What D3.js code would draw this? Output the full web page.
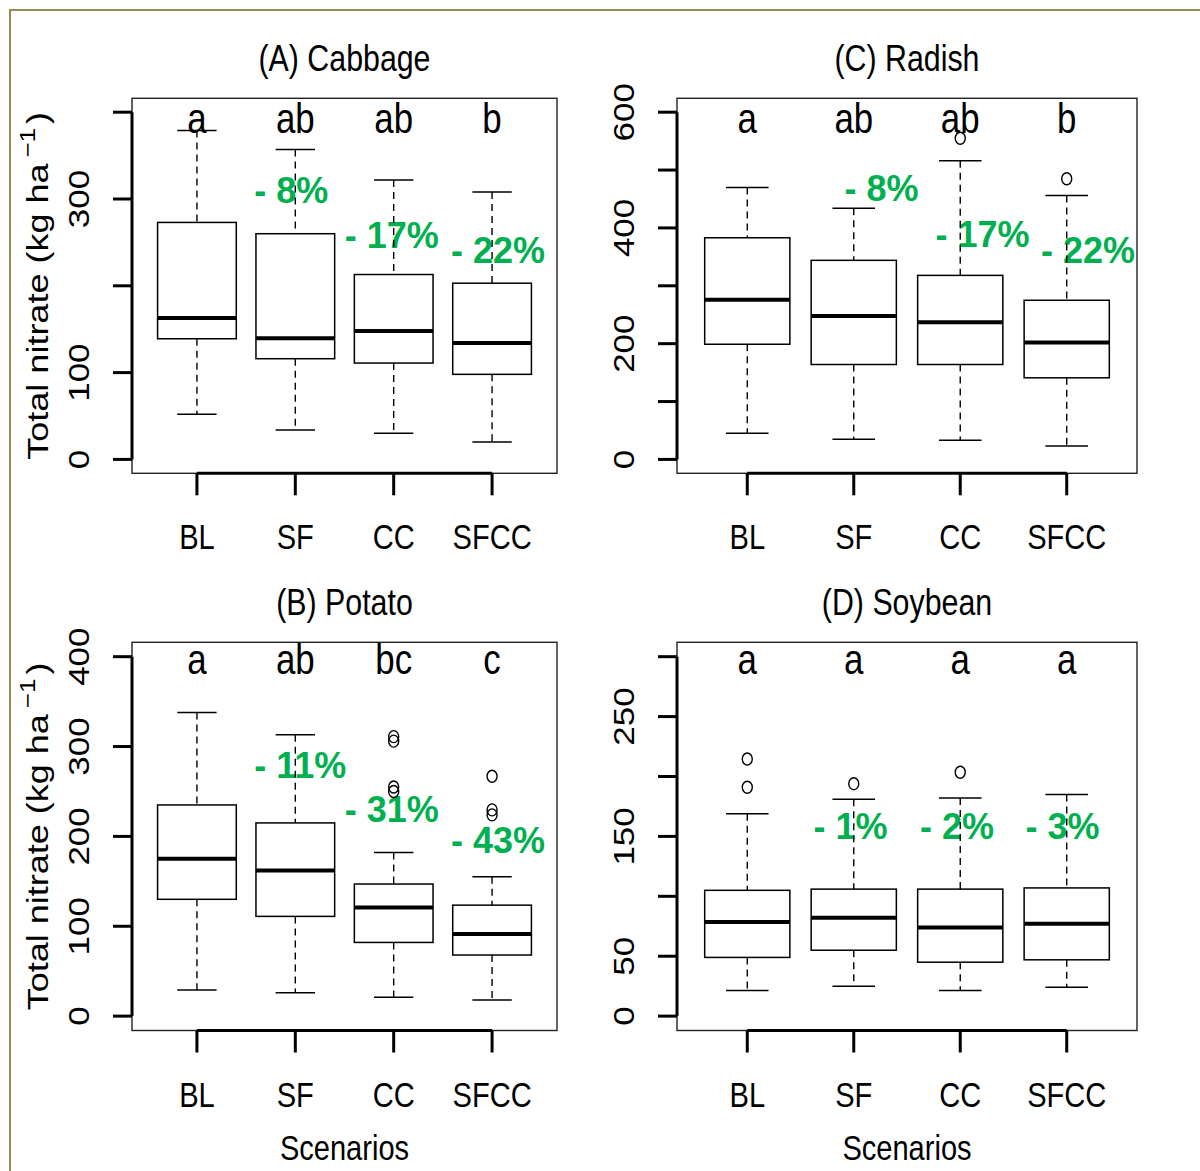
<!DOCTYPE html>
<html><head><meta charset="utf-8">
<script src="https://cdn.jsdelivr.net/npm/d3@7"></script>
<style>body{margin:0;background:#fff} svg{display:block} text{font-family:"Liberation Sans",Arial,Helvetica,sans-serif}</style>
</head><body><svg id="c" width="1200" height="1171"></svg>
<script>
const categories = ["BL","SF","CC","SFCC"];

// stats per scenario: [lower whisker, Q1, median, Q3, upper whisker]
const cabbageStats = [[52,139,163,273,379],[34,116,139.5,260,357],[30,111,148,213,322],[20,98,134,203,308]];
const cabbageOutliers = [[],[],[],[]];
const cabbageLetters = ["a","ab","ab","b"];
const cabbageChange = ["- 8%","- 17%","- 22%"];
const cabbageChangePos = [[1.96,295],[2.98,243],[4.06,226]];
const cabbageTicks = [0,100,200,300,400];
const cabbageTickLabels = [0,100,300];

const radishStats = [[45,199,276,383,470],[35,164,248,344,434],[33,164,237,318,516],[23,141,202,275,456]];
const radishOutliers = [[],[],[555],[485]];
const radishLetters = ["a","ab","ab","b"];
const radishChange = ["- 8%","- 17%","- 22%"];
const radishChangePos = [[2.26,447],[3.21,367],[4.20,340]];
const radishTicks = [0,100,200,300,400,500,600];
const radishTickLabels = [0,200,400,600];

const potatoStats = [[29,130,175,235,338],[26,111,162,215,313],[21,82,121,147,182],[18,68,91.5,123.5,155]];
const potatoOutliers = [[],[],[311,306,255,250],[267,229.5,224]];
const potatoLetters = ["a","ab","bc","c"];
const potatoChange = ["- 11%","- 31%","- 43%"];
const potatoChangePos = [[2.05,265.5],[2.98,215.5],[4.06,181]];
const potatoTicks = [0,100,200,300,400];
const potatoTickLabels = [0,100,200,300,400];

const soybeanStats = [[21.4,49,78.6,105,169],[25,55,82,106,181],[21.4,45,74,106,182],[24,47,77,107,185]];
const soybeanOutliers = [[214.6,191],[194],[203.5],[]];
const soybeanLetters = ["a","a","a","a"];
const soybeanChange = ["- 1%","- 2%","- 3%"];
const soybeanChangePos = [[1.97,148],[2.97,148],[3.96,148]];
const soybeanTicks = [0,50,100,150,200,250,300];
const soybeanTickLabels = [0,50,150,250];

const titles = ["(A) Cabbage","(C) Radish","(B) Potato","(D) Soybean"];
const yTitle = "Total nitrate (kg ha";
const xTitle = "Scenarios";

const SX = 0.83; // horizontal compression of the original figure text
const svg = d3.select("#c");
svg.append("rect").attr("width",1200).attr("height",1171).attr("fill","#fff");
svg.append("path").attr("d","M10,1171 V10 H1200").attr("fill","none").attr("stroke","#948A54").attr("stroke-width",2);

function htext(g, x, y, str, size, sx, opts={}) {
  return g.append("text").attr("transform",`translate(${x},${y}) scale(${sx},1)`)
    .attr("text-anchor", opts.anchor||"middle").attr("font-size", size)
    .attr("font-weight", opts.weight||"normal").attr("fill", opts.fill||"#000").text(str);
}
function vtext(g, x, y, str, size, sx) {
  return g.append("text").attr("transform",`translate(${x},${y}) rotate(-90) scale(1,${sx})`)
    .attr("text-anchor","middle").attr("font-size", size).attr("fill","#000").text(str);
}

function panel(o) {
  const g = svg.append("g");
  const [ymin, ymax] = o.ylim;
  const pad = 0.04*(ymax-ymin);
  const x = d3.scaleLinear().domain([0.5-0.16, 4.5+0.16]).range([o.left, o.right]);
  const y = d3.scaleLinear().domain([ymin-pad, ymax+pad]).range([o.bottom, o.top]);
  const unit = x(2)-x(1);

  // title
  htext(g, (o.left+o.right)/2, o.top-27.5, o.title, 37, 0.82);

  // green change labels (under the marks)
  o.change.forEach((s,i)=>{
    htext(g, x(o.changePos[i][0]), y(o.changePos[i][1]), s, 36, 1, {weight:"bold", fill:"#00B050"});
  });

  // boxplots
  o.stats.forEach((st,i)=>{
    const cx = x(i+1);
    const [lo,q1,med,q3,hi] = st;
    const bw = 0.4*unit, sw = 0.2*unit;
    g.append("line").attr("x1",cx).attr("x2",cx).attr("y1",y(hi)).attr("y2",y(q3))
      .attr("stroke","#000").attr("stroke-width",1.4).attr("stroke-dasharray","7,5");
    g.append("line").attr("x1",cx).attr("x2",cx).attr("y1",y(q1)).attr("y2",y(lo))
      .attr("stroke","#000").attr("stroke-width",1.4).attr("stroke-dasharray","7,5");
    [lo,hi].forEach(v=>g.append("line").attr("x1",cx-sw).attr("x2",cx+sw).attr("y1",y(v)).attr("y2",y(v))
      .attr("stroke","#000").attr("stroke-width",1.5));
    g.append("rect").attr("x",cx-bw).attr("width",2*bw).attr("y",y(q3)).attr("height",y(q1)-y(q3))
      .attr("fill","#fff").attr("stroke","#000").attr("stroke-width",1.5);
    g.append("line").attr("x1",cx-bw).attr("x2",cx+bw).attr("y1",y(med)).attr("y2",y(med))
      .attr("stroke","#000").attr("stroke-width",4);
    o.outliers[i].forEach(v=>g.append("ellipse").attr("cx",cx).attr("cy",y(v)).attr("rx",5).attr("ry",6)
      .attr("fill","none").attr("stroke","#000").attr("stroke-width",1.4));
    // significance letters
    htext(g, cx, o.top+(o.lower?32:35), o.letters[i], 42, SX);
    // x tick label
    htext(g, cx, o.bottom+76, categories[i], 35, SX);
  });

  // frame
  g.append("rect").attr("x",o.left).attr("y",o.top).attr("width",o.right-o.left).attr("height",o.bottom-o.top)
    .attr("fill","none").attr("stroke","#222").attr("stroke-width",1.4);

  // y axis
  g.append("line").attr("x1",o.left).attr("x2",o.left).attr("y1",y(o.ticks[0])).attr("y2",y(o.ticks[o.ticks.length-1]))
    .attr("stroke","#000").attr("stroke-width",3);
  o.ticks.forEach(t=>g.append("line").attr("x1",o.left-19).attr("x2",o.left).attr("y1",y(t)).attr("y2",y(t))
    .attr("stroke","#000").attr("stroke-width",3));
  o.tickLabels.forEach(t=>vtext(g, o.left-43, y(t), String(t), 35, SX));

  // x axis
  g.append("line").attr("x1",x(1)).attr("x2",x(4)).attr("y1",o.bottom).attr("y2",o.bottom)
    .attr("stroke","#000").attr("stroke-width",3);
  categories.forEach((c,i)=>g.append("line").attr("x1",x(i+1)).attr("x2",x(i+1)).attr("y1",o.bottom).attr("y2",o.bottom+22)
    .attr("stroke","#000").attr("stroke-width",3));

  // axis titles
  if (o.ytitle) {
    const t = g.append("text").attr("transform",`translate(${48},${(o.top+o.bottom)/2}) rotate(-90) scale(1,${SX})`)
      .attr("text-anchor","middle").attr("font-size",36).attr("fill","#000");
    t.append("tspan").text(yTitle);
    t.append("tspan").attr("dx",6).attr("dy",-16).attr("font-size",26).text("\u22121");
    t.append("tspan").attr("dx",4).attr("dy",16).text(")");
  }
  if (o.xtitle) htext(g, (o.left+o.right)/2, 1160, xTitle, 35, SX);
}

const UT = 98.3, UB = 473.3, LT = 642.3, LB = 1030.5;
panel({title:titles[0], left:132, right:557, top:UT, bottom:UB, ylim:[0,400], stats:cabbageStats, outliers:cabbageOutliers,
  letters:cabbageLetters, change:cabbageChange, changePos:cabbageChangePos, ticks:cabbageTicks, tickLabels:cabbageTickLabels, ytitle:true});
panel({title:titles[1], left:677, right:1137, top:UT, bottom:UB, ylim:[0,600], stats:radishStats, outliers:radishOutliers,
  letters:radishLetters, change:radishChange, changePos:radishChangePos, ticks:radishTicks, tickLabels:radishTickLabels});
panel({title:titles[2], left:132, right:557, top:LT, bottom:LB, ylim:[0,400], stats:potatoStats, outliers:potatoOutliers, lower:true,
  letters:potatoLetters, change:potatoChange, changePos:potatoChangePos, ticks:potatoTicks, tickLabels:potatoTickLabels, ytitle:true, xtitle:true});
panel({title:titles[3], left:677, right:1137, top:LT, bottom:LB, ylim:[0,300], stats:soybeanStats, outliers:soybeanOutliers, lower:true,
  letters:soybeanLetters, change:soybeanChange, changePos:soybeanChangePos, ticks:soybeanTicks, tickLabels:soybeanTickLabels, xtitle:true});
</script></body></html>
